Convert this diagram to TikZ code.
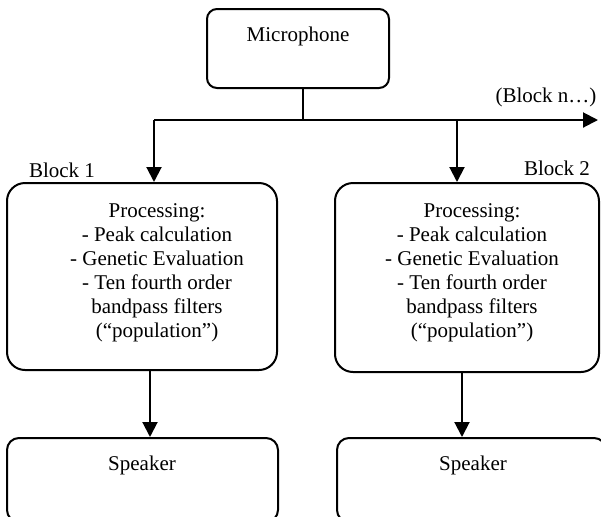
\documentclass[tikz,border=0pt]{standalone}
\usepackage{fontspec}
\setmainfont{Liberation Serif}
\usetikzlibrary{arrows.meta,positioning,calc}
\definecolor{ink}{HTML}{000000}

\begin{document}
\begin{tikzpicture}[x=0.5pt,y=-0.5pt,font=\fontsize{10.5}{12}\selectfont,
  box/.style={draw=ink,line width=1pt,inner sep=0pt},
  flow/.style={draw=ink,line width=1pt,-{Triangle[length=7.5pt,width=7.5pt]}}]
  \useasboundingbox (0,0) rectangle (601,516); \clip (0,0) rectangle (601,516);
  % boxes
  \node[box,rounded corners=5pt,minimum width=91pt,minimum height=39.5pt] (mic) at (298,48.5) {};
  \node[box,rounded corners=9pt,minimum width=135pt,minimum height=93.5pt] (proc1) at (142,276.5) {};
  \node[box,rounded corners=9pt,minimum width=132pt,minimum height=94.5pt] (proc2) at (467,277.5) {};
  \node[box,rounded corners=6pt,minimum width=135.5pt,minimum height=42pt] (spk1) at (142.5,480) {};
  \node[box,rounded corners=6pt,minimum width=134.5pt,minimum height=42pt] (spk2) at (471.5,480) {};
  % texts
  \node (mictxt) at (298,36) {Microphone};
  \node[align=center] (proc1txt) at (157,272.5) {Processing:\\- Peak calculation\\- Genetic Evaluation\\- Ten fourth order\\bandpass filters\\(“population”)};
  \node[align=center] (proc2txt) at (472,272.5) {Processing:\\- Peak calculation\\- Genetic Evaluation\\- Ten fourth order\\bandpass filters\\(“population”)};
  \node (spk1txt) at (142,465) {Speaker}; \node (spk2txt) at (473,465) {Speaker};
  \node (blk1) at (62,170) {Block 1}; \node (blk2) at (557,168) {Block 2}; \node (blkn) at (546,97) {(Block n…)};
  % connectors
  \coordinate (split) at (303,120); \coordinate (bus1) at (154,120); \coordinate (bus2) at (457,120); \coordinate (busn) at (598,120);
  \draw[ink,line width=1pt] (mic.south -| split) -- (split);
  \draw[flow] (bus1) -- (busn);
  \draw[flow] (bus1) -- (bus1 |- proc1.north); \draw[flow] (bus2) -- (bus2 |- proc2.north);
  \draw[flow] ([xshift=4pt]proc1.south) -- ([xshift=4pt]proc1.south |- spk1.north);
  \draw[flow] ([xshift=-2.5pt]proc2.south) -- ([xshift=-2.5pt]proc2.south |- spk2.north);
\end{tikzpicture}
\end{document}
